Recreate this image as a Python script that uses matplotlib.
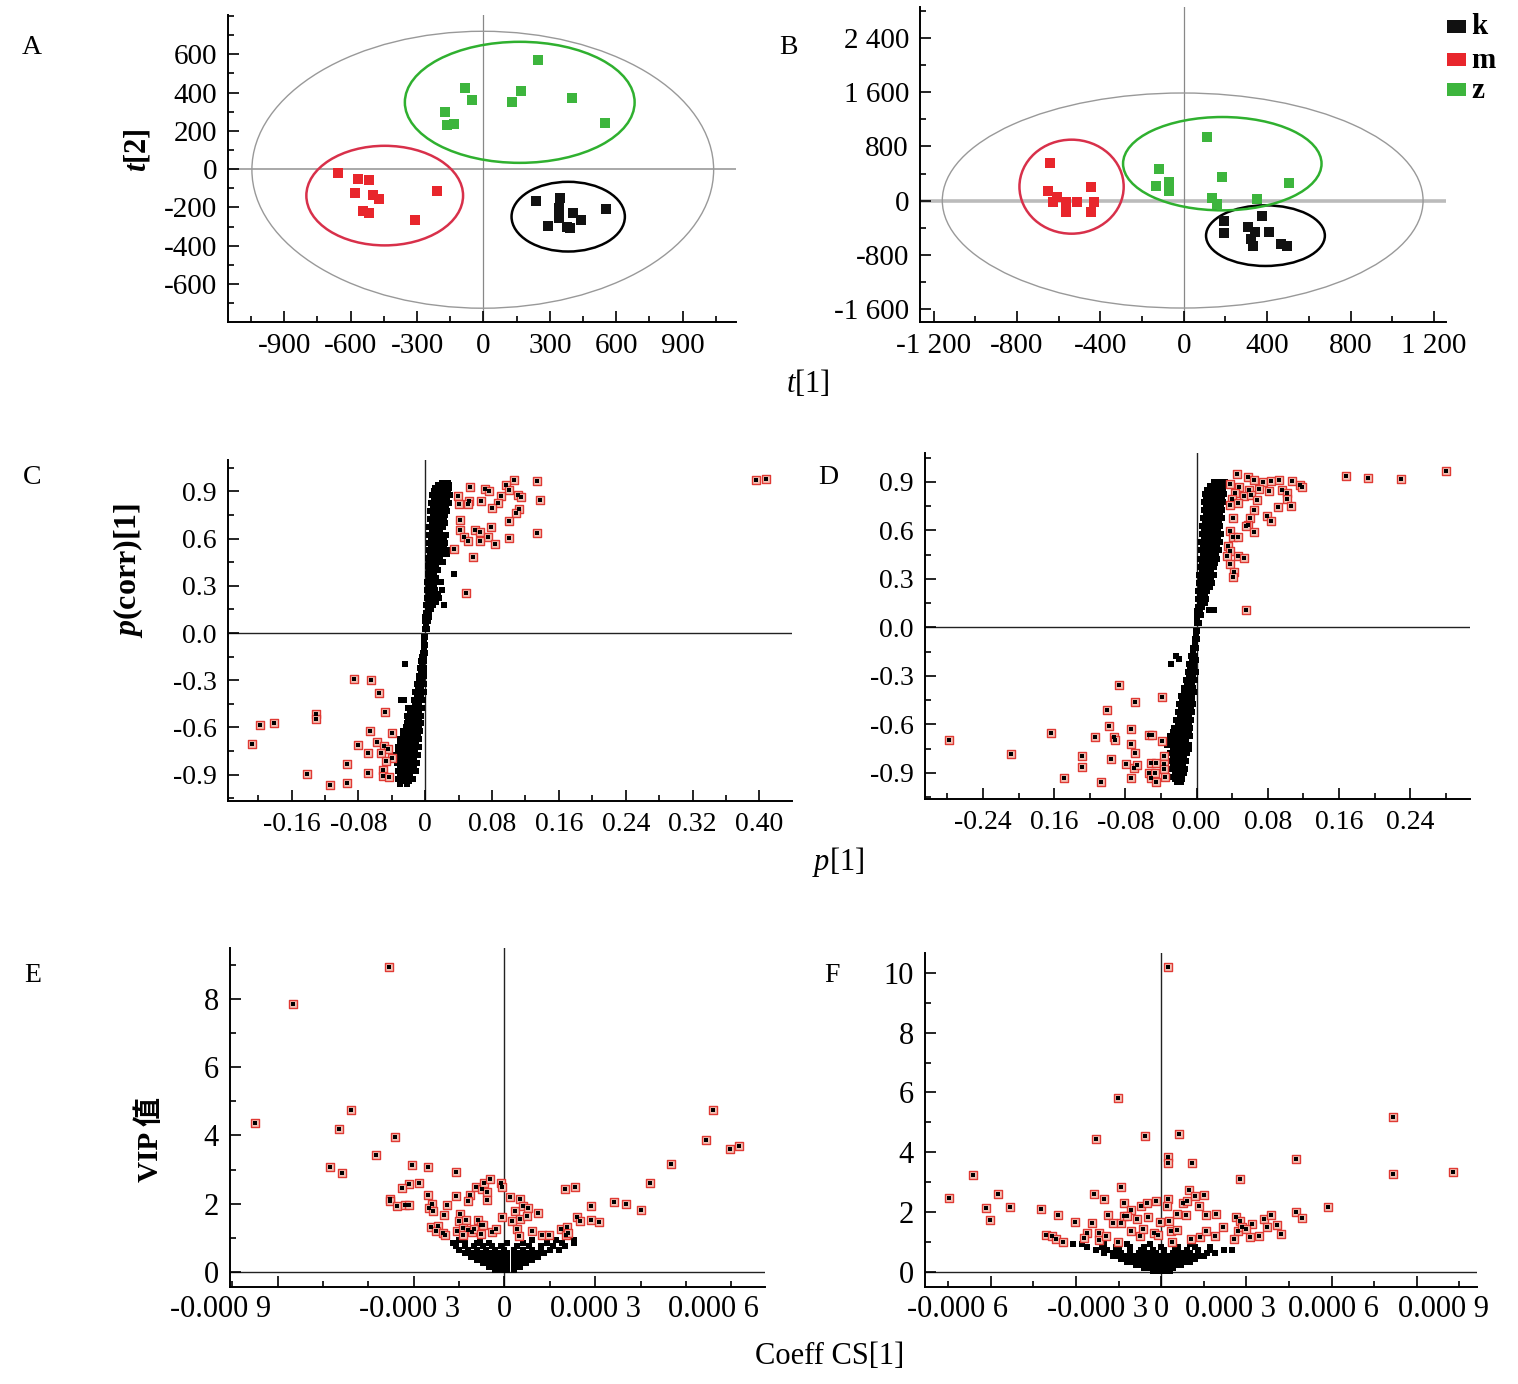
import matplotlib
matplotlib.use('Agg')
import matplotlib.pyplot as plt
from matplotlib.patches import Ellipse, Rectangle
from matplotlib.ticker import MultipleLocator, NullFormatter

plt.rcParams['font.family'] = ['Liberation Serif', 'Noto Sans CJK SC']
plt.rcParams['mathtext.fontset'] = 'custom'
plt.rcParams['mathtext.it'] = 'Liberation Serif:italic'
plt.rcParams['mathtext.rm'] = 'Liberation Serif'
plt.rcParams['mathtext.bf'] = 'Liberation Serif:bold'
plt.rcParams['mathtext.bfit'] = 'Liberation Serif:italic:bold'
plt.rcParams['axes.unicode_minus'] = False

# ---------------- data ----------------
groups = ['k', 'm', 'z']
group_colors = ['#111111', '#e8262c', '#3db53d']

# Panel A scores
a_k_x = [239, 346, 342, 403, 342, 440, 293, 379, 390, 552]
a_k_y = [-167, -148, -205, -231, -257, -268, -299, -301, -306, -209]
a_m_x = [-655, -565, -519, -578, -497, -471, -212, -543, -519, -311]
a_m_y = [-19, -49, -59, -127, -136, -158, -115, -219, -228, -268]
a_z_x = [247, -85, 171, -53, 131, 401, -173, -164, -131, 550]
a_z_y = [572, 424, 407, 363, 353, 374, 297, 233, 237, 242]
# ellipses: (center x, center y, half width, half height)
a_ell_all = (-3, -3, 1043, 723)
a_ell_k = (383, -248, 256, 182)
a_ell_m = (-446, -138, 354, 260)
a_ell_z = (164, 349, 519, 316)
a_xticks = [-900, -600, -300, 0, 300, 600, 900]
a_xlabels = ['-900', '-600', '-300', '0', '300', '600', '900']
a_yticks = [600, 400, 200, 0, -200, -400, -600]
a_ylabels = ['600', '400', '200', '0', '-200', '-400', '-600']

# Panel B scores
b_k_x = [193, 377, 193, 307, 342, 409, 323, 330, 467, 495]
b_k_y = [-300, -231, -472, -388, -462, -462, -565, -668, -634, -668]
b_m_x = [-642, -649, -609, -628, -567, -512, -563, -444, -430, -444]
b_m_y = [555, 143, 54, -20, -20, -20, -172, 201, -20, -172]
b_z_x = [112, -121, -135, -72, -72, 184, 137, 160, 351, 505]
b_z_y = [939, 472, 211, 270, 143, 349, 44, -44, 20, 265]
b_ell_all = (-5, 2, 1153, 1585)
b_ell_k = (392, -516, 285, 447)
b_ell_m = (-538, 206, 250, 693)
b_ell_z = (185, 545, 476, 688)
b_xticks = [-1200, -800, -400, 0, 400, 800, 1200]
b_xlabels = ['-1 200', '-800', '-400', '0', '400', '800', '1 200']
b_yticks = [2400, 1600, 800, 0, -800, -1600]
b_ylabels = ['2 400', '1 600', '800', '0', '-800', '-1 600']

# Panel C S-plot: black variables, rows of (p(corr), [p values])
c_black_rows = [
    (0.025, [0.000, 0.002]), (0.05, [0.001]), (0.075, [0.000, 0.003]), (0.10, [0.000, 0.004]),
    (0.125, [0.001, 0.005]), (0.15, [0.003, 0.007]),
    (0.175, [0.001, 0.005, 0.009, 0.022]), (0.20, [0.004, 0.009, 0.013]),
    (0.225, [0.002, 0.006, 0.011, 0.016]), (0.25, [0.004, 0.009, 0.015]),
    (0.275, [0.002, 0.007, 0.012, 0.020]), (0.30, [0.005, 0.010]),
    (0.325, [0.002, 0.007, 0.012, 0.019]), (0.35, [0.005, 0.009, 0.013]),
    (0.375, [0.003, 0.007, 0.011, 0.035]), (0.40, [0.005, 0.010, 0.015]),
    (0.425, [0.003, 0.008, 0.013]), (0.45, [0.005, 0.011, 0.016, 0.021]),
    (0.475, [0.003, 0.008, 0.013, 0.018]), (0.50, [0.006, 0.011, 0.016, 0.021, 0.026]),
    (0.525, [0.004, 0.009, 0.014, 0.019, 0.024, 0.028]), (0.55, [0.007, 0.012, 0.017, 0.022]),
    (0.575, [0.004, 0.009, 0.014, 0.019, 0.024]), (0.60, [0.007, 0.012, 0.017, 0.023]),
    (0.625, [0.005, 0.010, 0.015, 0.020, 0.025]), (0.65, [0.008, 0.013, 0.018]),
    (0.675, [0.005, 0.010, 0.015, 0.021]), (0.70, [0.008, 0.013, 0.019, 0.024]),
    (0.725, [0.006, 0.011, 0.016, 0.022]), (0.75, [0.009, 0.014, 0.019, 0.024]),
    (0.775, [0.006, 0.011, 0.016, 0.021, 0.026]), (0.80, [0.009, 0.014, 0.019, 0.025]),
    (0.825, [0.007, 0.012, 0.017, 0.022, 0.028]), (0.85, [0.010, 0.015, 0.020, 0.026]),
    (0.875, [0.008, 0.013, 0.018, 0.024, 0.030]), (0.90, [0.010, 0.015, 0.021, 0.027]),
    (0.925, [0.012, 0.018, 0.024, 0.029]), (0.94, [0.015, 0.022, 0.028]),
    (0.955, [0.020, 0.027]),
    (-0.025, [-0.001, 0.000]), (-0.05, [-0.001]), (-0.075, [-0.002, 0.000]), (-0.10, [-0.002]),
    (-0.125, [-0.003, 0.000]), (-0.15, [-0.004, -0.002]),
    (-0.175, [-0.005, -0.001]), (-0.20, [-0.024, -0.004]), (-0.225, [-0.006, -0.002]),
    (-0.25, [-0.005, -0.002]), (-0.275, [-0.008, -0.004, -0.001]), (-0.30, [-0.007, -0.004]),
    (-0.325, [-0.010, -0.006, -0.002]), (-0.35, [-0.009, -0.005]),
    (-0.375, [-0.012, -0.007, -0.002]), (-0.40, [-0.010, -0.005]),
    (-0.425, [-0.029, -0.025, -0.013, -0.008, -0.003]), (-0.45, [-0.012, -0.007]),
    (-0.475, [-0.020, -0.015, -0.010, -0.004]), (-0.50, [-0.018, -0.012, -0.007]),
    (-0.525, [-0.022, -0.017, -0.011, -0.005]), (-0.55, [-0.020, -0.014, -0.008]),
    (-0.575, [-0.022, -0.017, -0.011, -0.005]), (-0.60, [-0.023, -0.018, -0.013, -0.008]),
    (-0.625, [-0.026, -0.021, -0.016, -0.011, -0.006]), (-0.65, [-0.027, -0.021, -0.015, -0.009]),
    (-0.675, [-0.030, -0.024, -0.018, -0.012, -0.007]), (-0.70, [-0.030, -0.024, -0.018, -0.011]),
    (-0.725, [-0.033, -0.027, -0.021, -0.015, -0.008]), (-0.75, [-0.032, -0.026, -0.019, -0.012]),
    (-0.775, [-0.035, -0.029, -0.023, -0.016, -0.009]), (-0.80, [-0.031, -0.025, -0.019, -0.013]),
    (-0.825, [-0.034, -0.028, -0.022, -0.016, -0.010]), (-0.85, [-0.030, -0.024, -0.019, -0.013]),
    (-0.875, [-0.033, -0.027, -0.021, -0.016, -0.011]), (-0.90, [-0.030, -0.024, -0.018]),
    (-0.925, [-0.032, -0.026, -0.020, -0.014]), (-0.94, [-0.028, -0.019]),
    (-0.960, [-0.030, -0.022])]
c_red = [(0.106, 0.975), (0.134, 0.964), (0.396, 0.975), (0.408, 0.979), (0.054, 0.928),
         (0.071, 0.915), (0.076, 0.900), (0.097, 0.941), (0.100, 0.907), (0.091, 0.873),
         (0.111, 0.879), (0.115, 0.864), (0.039, 0.868), (0.138, 0.843), (0.053, 0.837),
         (0.051, 0.822), (0.041, 0.822), (0.067, 0.837), (0.087, 0.826), (0.080, 0.794),
         (0.112, 0.788), (0.109, 0.766), (0.042, 0.716), (0.100, 0.709), (0.042, 0.656),
         (0.060, 0.656), (0.065, 0.645), (0.079, 0.673), (0.075, 0.609), (0.046, 0.609),
         (0.051, 0.582), (0.066, 0.588), (0.083, 0.565), (0.100, 0.603), (0.134, 0.639),
         (0.035, 0.533), (0.057, 0.482), (0.049, 0.257),
         (-0.085, -0.295), (-0.065, -0.299), (-0.055, -0.380), (-0.048, -0.501), (-0.131, -0.512),
         (-0.131, -0.544), (-0.181, -0.569), (-0.198, -0.586), (-0.066, -0.624), (-0.040, -0.633),
         (-0.207, -0.707), (-0.080, -0.713), (-0.058, -0.696), (-0.049, -0.720), (-0.044, -0.735),
         (-0.053, -0.762), (-0.068, -0.766), (-0.040, -0.794), (-0.047, -0.813), (-0.093, -0.834),
         (-0.051, -0.868), (-0.069, -0.890), (-0.142, -0.894), (-0.051, -0.911), (-0.043, -0.915),
         (-0.093, -0.951), (-0.114, -0.968)]
c_xticks = [-0.16, -0.08, 0, 0.08, 0.16, 0.24, 0.32, 0.40]
c_xlabels = ['-0.16', '-0.08', '0', '0.08', '0.16', '0.24', '0.32', '0.40']
cd_yticks = [0.9, 0.6, 0.3, 0.0, -0.3, -0.6, -0.9]
cd_ylabels = ['0.9', '0.6', '0.3', '0.0', '-0.3', '-0.6', '-0.9']

# Panel D S-plot
d_black_rows = [
    (0.025, [0.000, 0.003]), (0.05, [0.001]), (0.075, [0.001, 0.005]), (0.10, [0.001, 0.004]),
    (0.105, [0.014, 0.020]), (0.125, [0.002, 0.006]), (0.15, [0.004, 0.009]),
    (0.175, [0.002, 0.007, 0.011]), (0.20, [0.004, 0.009]), (0.225, [0.002, 0.007, 0.012]),
    (0.25, [0.005, 0.010, 0.015]), (0.275, [0.003, 0.008, 0.013, 0.017]),
    (0.30, [0.005, 0.010, 0.016]), (0.325, [0.003, 0.008, 0.013, 0.020]),
    (0.35, [0.006, 0.011, 0.016]), (0.375, [0.004, 0.009, 0.014, 0.019]),
    (0.40, [0.006, 0.011, 0.016, 0.021]), (0.425, [0.004, 0.009, 0.014, 0.019, 0.023]),
    (0.45, [0.007, 0.012, 0.017, 0.022]), (0.475, [0.005, 0.010, 0.015, 0.020, 0.025]),
    (0.50, [0.007, 0.012, 0.017, 0.023]), (0.525, [0.005, 0.010, 0.015, 0.020, 0.026]),
    (0.55, [0.008, 0.013, 0.018, 0.024]), (0.575, [0.006, 0.011, 0.016, 0.021, 0.027]),
    (0.60, [0.008, 0.013, 0.018, 0.024]), (0.625, [0.006, 0.011, 0.016, 0.021, 0.026]),
    (0.65, [0.009, 0.014, 0.019, 0.025]), (0.675, [0.007, 0.012, 0.017, 0.022, 0.028]),
    (0.70, [0.010, 0.015, 0.020, 0.026]), (0.725, [0.008, 0.013, 0.018, 0.023, 0.029]),
    (0.75, [0.010, 0.016, 0.021, 0.027]), (0.775, [0.008, 0.013, 0.018, 0.024, 0.030]),
    (0.80, [0.011, 0.016, 0.022, 0.028]), (0.825, [0.009, 0.014, 0.019, 0.025, 0.031]),
    (0.85, [0.012, 0.018, 0.024, 0.030]), (0.875, [0.015, 0.021, 0.027, 0.033]),
    (0.90, [0.020, 0.026, 0.032]),
    (-0.025, [-0.001, 0.000]), (-0.05, [-0.001]), (-0.075, [-0.002, 0.000]), (-0.10, [-0.002]),
    (-0.125, [-0.004, -0.001]), (-0.15, [-0.004]), (-0.175, [-0.023, -0.006, -0.002]),
    (-0.195, [-0.020]), (-0.20, [-0.005, -0.001]), (-0.225, [-0.029, -0.008, -0.003]),
    (-0.25, [-0.007, -0.003]), (-0.275, [-0.010, -0.005, -0.001]), (-0.30, [-0.009, -0.004]),
    (-0.325, [-0.012, -0.007, -0.002]), (-0.35, [-0.011, -0.005]),
    (-0.375, [-0.014, -0.009, -0.004]), (-0.40, [-0.014, -0.008, -0.003]),
    (-0.425, [-0.017, -0.011, -0.005]), (-0.45, [-0.016, -0.010, -0.005]),
    (-0.475, [-0.020, -0.014, -0.008, -0.004]), (-0.50, [-0.017, -0.011, -0.006]),
    (-0.525, [-0.021, -0.015, -0.009, -0.005]), (-0.55, [-0.019, -0.013, -0.008]),
    (-0.575, [-0.023, -0.017, -0.011, -0.006]), (-0.60, [-0.021, -0.015, -0.009]),
    (-0.625, [-0.025, -0.019, -0.013, -0.007]), (-0.65, [-0.027, -0.021, -0.015, -0.009]),
    (-0.675, [-0.030, -0.024, -0.018, -0.012, -0.007]), (-0.695, [-0.035]),
    (-0.70, [-0.030, -0.024, -0.018, -0.012]), (-0.725, [-0.033, -0.027, -0.021, -0.015, -0.009]),
    (-0.75, [-0.027, -0.021, -0.015, -0.009]), (-0.775, [-0.030, -0.024, -0.018, -0.011]),
    (-0.80, [-0.026, -0.020, -0.014]), (-0.825, [-0.029, -0.023, -0.017, -0.012]),
    (-0.85, [-0.026, -0.020, -0.015]), (-0.875, [-0.029, -0.023, -0.018, -0.013]),
    (-0.90, [-0.024, -0.019, -0.014]), (-0.925, [-0.027, -0.021, -0.016]),
    (-0.94, [-0.024, -0.016]), (-0.955, [-0.022, -0.018])]
d_red = [(0.280, 0.969), (0.168, 0.934), (0.192, 0.926), (0.230, 0.920),
         (0.045, 0.946), (0.058, 0.930), (0.064, 0.913), (0.075, 0.899), (0.083, 0.903),
         (0.093, 0.909), (0.107, 0.903), (0.116, 0.878), (0.118, 0.868), (0.038, 0.885),
         (0.048, 0.868), (0.059, 0.852), (0.070, 0.856), (0.081, 0.841), (0.096, 0.847),
         (0.101, 0.831), (0.043, 0.831), (0.053, 0.810), (0.061, 0.821), (0.040, 0.794),
         (0.068, 0.786), (0.102, 0.794), (0.091, 0.744), (0.106, 0.748), (0.038, 0.759),
         (0.047, 0.769), (0.064, 0.724), (0.079, 0.687), (0.083, 0.656), (0.041, 0.676),
         (0.060, 0.676), (0.058, 0.635), (0.055, 0.625), (0.064, 0.592), (0.038, 0.594),
         (0.041, 0.559), (0.047, 0.559), (0.035, 0.501), (0.037, 0.470), (0.034, 0.439),
         (0.046, 0.443), (0.053, 0.427), (0.038, 0.394), (0.042, 0.342), (0.041, 0.309),
         (0.055, 0.107),
         (-0.278, -0.699), (-0.208, -0.786), (-0.163, -0.656), (-0.149, -0.934), (-0.129, -0.796),
         (-0.129, -0.862), (-0.114, -0.678), (-0.107, -0.957), (-0.101, -0.509), (-0.098, -0.608),
         (-0.096, -0.816), (-0.093, -0.678), (-0.092, -0.699), (-0.087, -0.357), (-0.079, -0.847),
         (-0.074, -0.629), (-0.074, -0.724), (-0.074, -0.934), (-0.069, -0.462), (-0.069, -0.775),
         (-0.070, -0.872), (-0.067, -0.852), (-0.054, -0.664), (-0.050, -0.668), (-0.054, -0.899),
         (-0.051, -0.934), (-0.051, -0.837), (-0.046, -0.837), (-0.047, -0.899), (-0.046, -0.959),
         (-0.039, -0.431), (-0.039, -0.701), (-0.037, -0.798), (-0.037, -0.847), (-0.037, -0.876),
         (-0.036, -0.926)]
d_xticks = [-0.24, -0.16, -0.08, 0.0, 0.08, 0.16, 0.24]
d_xlabels = ['-0.24', '0.16', '-0.08', '0.00', '0.08', '0.16', '0.24']

# Panel E VIP vs coefficient: black rows of (VIP, [coeff])
e_black_rows = [
    (0.05, [-3e-5, -1e-5, 1e-5, 3e-5]),
    (0.15, [-5e-5, -3e-5, -1e-5, 1e-5, 3e-5, 5e-5]),
    (0.25, [-7e-5, -5e-5, -3e-5, -1e-5, 1e-5, 3e-5, 5e-5, 7e-5]),
    (0.35, [-9e-5, -7e-5, -5e-5, -3e-5, -1e-5, 1e-5, 3e-5, 5e-5, 7e-5, 9e-5]),
    (0.45, [-11e-5, -9e-5, -7e-5, -5e-5, -3e-5, -1e-5, 1e-5, 3e-5, 5e-5, 7e-5, 9e-5, 11e-5]),
    (0.55, [-13e-5, -11e-5, -9e-5, -7e-5, -5e-5, -3e-5, -1e-5, 1e-5, 3e-5, 5e-5, 7e-5, 9e-5,
            11e-5, 13e-5]),
    (0.65, [-15e-5, -12e-5, -9e-5, -6e-5, -3e-5, 0.0, 3e-5, 6e-5, 9e-5, 12e-5, 15e-5, 18e-5]),
    (0.75, [-16e-5, -13e-5, -10e-5, -7e-5, -4e-5, -1e-5, 4e-5, 8e-5, 12e-5, 16e-5, 20e-5]),
    (0.85, [-17e-5, -13e-5, -9e-5, -5e-5, 1e-5, 6e-5, 14e-5, 19e-5, 23e-5]),
    (0.95, [-15e-5, -8e-5, 9e-5, 17e-5, 23e-5])]
e_red = [(-0.000380, 8.94), (-0.000700, 7.85), (-0.000824, 4.36), (-0.000507, 4.75), (-0.000547, 4.20),
         (-0.000363, 3.96), (-0.000426, 3.44), (-0.000577, 3.07), (-0.000537, 2.89), (-0.000304, 3.13),
         (-0.000254, 3.07), (-0.000160, 2.93), (-0.000283, 2.61), (-0.000314, 2.58), (-0.000337, 2.45),
         (-0.000379, 2.14), (-0.000379, 2.07), (-0.000356, 1.92), (-0.000330, 1.97), (-0.000314, 1.97),
         (-0.000254, 2.25), (-0.000240, 1.99), (-0.000250, 1.87), (-0.000236, 1.78), (-0.000189, 1.97),
         (-0.000200, 1.67), (-0.000161, 2.23), (-0.000147, 1.70), (-0.000150, 1.48), (-0.000126, 1.51),
         (-0.000114, 2.25), (-0.000119, 2.09), (-0.000093, 2.48), (-0.000073, 2.43), (-0.000067, 2.61),
         (-0.000047, 2.72), (-0.000057, 2.34), (-0.000057, 2.12), (-0.000089, 1.53), (-0.000079, 1.39),
         (-0.000070, 1.39), (-0.000011, 2.61), (-0.000009, 2.49), (-0.000007, 1.60), (0.000017, 2.20),
         (0.000051, 2.13), (0.000036, 1.80), (0.000060, 1.92), (0.000079, 1.88), (0.000051, 1.56),
         (0.000074, 1.65), (0.000024, 1.50), (0.000110, 1.72), (0.000041, 1.26), (0.000047, 1.04),
         (0.000090, 1.21), (0.000200, 2.43), (0.000233, 2.48), (0.000241, 1.62), (0.000249, 1.48),
         (0.000286, 1.92), (0.000286, 1.52), (0.000311, 1.46), (0.000363, 2.04), (0.000400, 1.98),
         (0.000450, 1.81), (0.000481, 2.60), (0.000550, 3.15), (0.000667, 3.86), (0.000689, 4.75),
         (0.000746, 3.60), (0.000774, 3.69),
         (-0.000243, 1.32), (-0.000219, 1.36), (-0.000226, 1.19), (-0.000204, 1.14), (-0.000196, 1.09),
         (-0.000157, 1.21), (-0.000136, 1.28), (-0.000121, 1.24), (-0.000136, 1.09), (-0.000107, 1.17),
         (-0.000100, 1.26), (-0.000076, 1.12), (-0.000040, 1.16), (-0.000029, 1.26), (0.000124, 1.09),
         (0.000146, 1.09), (0.000186, 1.26), (0.000207, 1.32), (0.000203, 1.09), (0.000210, 1.14)]
e_major = [-0.00075, -0.0003, 0.0, 0.0003]
e_label_pos = [-0.000937, -0.000315, 0.0, 0.0003, 0.000692]
e_labels = ['-0.000 9', '-0.000 3', '0', '0.000 3', '0.000 6']
e_yticks = [0, 2, 4, 6, 8]

# Panel F VIP vs coefficient
f_black_rows = [
    (0.05, [-3e-5, -1e-5, 1e-5, 3e-5]),
    (0.15, [-6e-5, -4e-5, -2e-5, 0.0, 2e-5, 4e-5]),
    (0.25, [-9e-5, -7e-5, -5e-5, -3e-5, -1e-5, 1e-5, 3e-5, 5e-5, 7e-5]),
    (0.35, [-12e-5, -10e-5, -8e-5, -6e-5, -4e-5, -2e-5, 0.0, 2e-5, 4e-5, 6e-5, 8e-5, 10e-5]),
    (0.45, [-14e-5, -12e-5, -10e-5, -8e-5, -6e-5, -4e-5, -2e-5, 0.0, 2e-5, 4e-5, 6e-5, 8e-5,
            10e-5, 12e-5]),
    (0.55, [-17e-5, -15e-5, -13e-5, -11e-5, -9e-5, -7e-5, -5e-5, -3e-5, -1e-5, 1e-5, 3e-5, 5e-5,
            7e-5, 9e-5, 11e-5, 13e-5, 15e-5]),
    (0.65, [-20e-5, -17e-5, -14e-5, -11e-5, -8e-5, -5e-5, -2e-5, 1e-5, 4e-5, 7e-5, 10e-5, 13e-5,
            16e-5, 19e-5]),
    (0.75, [-23e-5, -19e-5, -15e-5, -11e-5, -7e-5, -3e-5, 1e-5, 5e-5, 9e-5, 13e-5, 17e-5, 22e-5,
            25e-5]),
    (0.85, [-26e-5, -21e-5, -16e-5, -11e-5, -6e-5, 0.0, 6e-5, 12e-5, 17e-5]),
    (0.95, [-31e-5, -28e-5, -20e-5, -12e-5, -4e-5, 4e-5, 10e-5])]
f_red = [(0.0000236, 10.18), (-0.000151, 5.83), (0.000817, 5.18), (-0.000229, 4.44), (-0.0000581, 4.55),
         (0.0000628, 4.62), (0.0000251, 3.86), (0.0000251, 3.64), (0.000108, 3.64), (0.000476, 3.79),
         (0.000817, 3.27), (0.001026, 3.34), (-0.000664, 3.25), (-0.000749, 2.49), (-0.000575, 2.61),
         (-0.000616, 2.14), (-0.000531, 2.18), (-0.000602, 1.75), (-0.000422, 2.10), (-0.000363, 1.90),
         (-0.000303, 1.68), (0.000276, 3.11), (0.000589, 2.18), (0.000476, 2.02), (0.000496, 1.79),
         (-0.000236, 2.61), (-0.000203, 2.45), (-0.000143, 2.84), (-0.000132, 2.30), (-0.000105, 2.06),
         (-0.000187, 1.90), (-0.000171, 1.64), (-0.000140, 1.64), (-0.000132, 1.86), (-0.000121, 1.86),
         (-0.0000864, 1.77), (-0.0000455, 1.84), (-0.0000707, 2.22), (-0.0000503, 2.32), (-0.0000188, 2.36),
         (0.0000251, 2.44), (0.0000188, 2.19), (0.0000283, 1.69), (-0.0000031, 1.66), (0.0000754, 2.30),
         (0.0000911, 2.38), (0.0000989, 2.75), (0.000119, 2.55), (0.000149, 2.58), (0.0000565, 1.94),
         (0.0000880, 1.89), (0.000134, 2.19), (0.000159, 1.89), (0.000193, 1.95), (0.000217, 1.49),
         (0.000265, 1.84), (0.000279, 1.71), (0.000319, 1.62), (0.000363, 1.77), (0.000388, 1.90),
         (0.000374, 1.52), (0.000407, 1.58), (0.000421, 1.28), (0.000346, 1.22), (0.000311, 1.16),
         (0.000269, 1.36), (0.000286, 1.49), (0.000300, 1.43), (-0.000243, 1.64), (-0.000261, 1.32),
         (-0.000273, 1.13), (-0.000218, 1.32), (-0.000218, 1.06), (-0.000195, 1.21), (-0.000152, 1.02),
         (-0.000108, 1.36), (-0.0000738, 1.21), (-0.0000628, 1.43), (-0.0000267, 1.30), (-0.000011, 1.25),
         (0.0000361, 1.36), (0.0000565, 1.41), (0.0000393, 1.02), (0.000104, 1.11), (0.000135, 1.16),
         (0.000157, 1.36), (0.000190, 1.22), (0.000256, 1.11), (-0.000407, 1.25), (-0.000383, 1.22),
         (-0.000369, 1.11), (-0.000347, 1.02)]
f_major = [-0.0006, -0.0003, 0.0, 0.0003, 0.0006, 0.0009]
f_label_pos = [-0.000716, -0.000223, 0.0, 0.000243, 0.000608, 0.000993]
f_labels = ['-0.000 6', '-0.000 3', '0', '0.000 3', '0.000 6', '0.000 9']
f_yticks = [0, 2, 4, 6, 8, 10]

# ---------------- figure ----------------
W, H = 1518, 1384
fig = plt.figure(figsize=(W / 100, H / 100), dpi=100)


def add_axes(l, r, t, b):
    return fig.add_axes([l / W, 1 - b / H, (r - l) / W, (b - t) / H])


def style(ax, fs):
    for s in ['top', 'right']:
        ax.spines[s].set_visible(False)
    for s in ['left', 'bottom']:
        ax.spines[s].set_linewidth(1.4)
    ax.tick_params(which='both', direction='in', top=False, right=False, width=1.2)
    ax.tick_params(which='major', length=8, labelsize=fs, pad=8)
    ax.tick_params(which='minor', length=4)


def ftext(x, y, s, **kw):
    fig.text(x / W, 1 - y / H, s, ha='center', va='center', **kw)


def draw_scores(ax, data, ells, hline_kw):
    ax.axhline(0, **hline_kw)
    ax.axvline(0, color='#888888', lw=0.9, zorder=1)
    cx, cy, hw, hh = ells[0]
    ax.add_patch(Ellipse((cx, cy), 2 * hw, 2 * hh, fill=False, ec='#999999', lw=1.0, zorder=2))
    ecols = ['#000000', '#d8304a', '#2fb02f']
    for (xs, ys), e, c, ec in zip(data, ells[1:], group_colors, ecols):
        ax.add_patch(Ellipse((e[0], e[1]), 2 * e[2], 2 * e[3], fill=False, ec=ec,
                             lw=1.8, zorder=2))
        ax.scatter(xs, ys, s=50, marker='s', color=c, linewidths=0, zorder=3)


def rows_to_xy(rows):
    xs, ys = [], []
    for y, row in rows:
        for x in row:
            xs.append(x)
            ys.append(y)
    return xs, ys


def draw_splot(ax, black_rows, red, bs):
    bx, by = rows_to_xy(black_rows)
    rx, ry = zip(*red)
    ax.axhline(0, color='#222222', lw=1.0, zorder=1)
    ax.axvline(0, color='#222222', lw=1.0, zorder=1)
    ax.scatter(bx, by, s=bs, marker='s', color='black', linewidths=0, zorder=2)
    ax.scatter(rx, ry, s=34, marker='s', facecolor='#f2c2b6', edgecolor='#e03a34',
               linewidths=1.0, zorder=3)
    ax.scatter(rx, ry, s=6, marker='s', color='black', linewidths=0, zorder=4)


# Panel A
axA = add_axes(228, 736, 15, 322)
draw_scores(axA, [(a_k_x, a_k_y), (a_m_x, a_m_y), (a_z_x, a_z_y)],
            [a_ell_all, a_ell_k, a_ell_m, a_ell_z], dict(color='#999999', lw=1.2, zorder=1))
axA.set_xlim(-1154, 1141)
axA.set_ylim(-798, 805)
axA.set_xticks(a_xticks, a_xlabels)
axA.set_yticks(a_yticks, a_ylabels)
axA.xaxis.set_minor_locator(MultipleLocator(150))
axA.yaxis.set_minor_locator(MultipleLocator(100))
style(axA, 21)

# Panel B
axB = add_axes(920, 1446, 7, 322)
draw_scores(axB, [(b_k_x, b_k_y), (b_m_x, b_m_y), (b_z_x, b_z_y)],
            [b_ell_all, b_ell_k, b_ell_m, b_ell_z], dict(color='#bbbbbb', lw=2.6, zorder=1))
axB.set_xlim(-1265, 1258)
axB.set_ylim(-1789, 2855)
axB.set_xticks(b_xticks, b_xlabels)
axB.set_yticks(b_yticks, b_ylabels)
axB.xaxis.set_minor_locator(MultipleLocator(200))
axB.yaxis.set_minor_locator(MultipleLocator(400))
style(axB, 21)

# Panel C
axC = add_axes(228, 792, 460, 801)
draw_splot(axC, c_black_rows, c_red, 18)
axC.set_xlim(-0.236, 0.439)
axC.set_ylim(-1.068, 1.10)
axC.set_xticks(c_xticks, c_xlabels)
axC.set_yticks(cd_yticks, cd_ylabels)
axC.xaxis.set_minor_locator(MultipleLocator(0.04))
axC.yaxis.set_minor_locator(MultipleLocator(0.15))
style(axC, 20)

# Panel D
axD = add_axes(925, 1470, 453, 799)
draw_splot(axD, d_black_rows, d_red, 18)
axD.set_xlim(-0.305, 0.307)
axD.set_ylim(-1.062, 1.078)
axD.set_xticks(d_xticks, d_xlabels)
axD.set_yticks(cd_yticks, cd_ylabels)
axD.xaxis.set_minor_locator(MultipleLocator(0.04))
axD.yaxis.set_minor_locator(MultipleLocator(0.15))
style(axD, 20)


def vip_axis(ax, major, label_pos, labels, yticks, fs):
    ax.set_xticks(major)
    ax.xaxis.set_major_formatter(NullFormatter())
    ax.xaxis.set_minor_locator(MultipleLocator(0.00015))
    ax.set_yticks(yticks, [str(v) for v in yticks])
    ax.yaxis.set_minor_locator(MultipleLocator(1))
    style(ax, fs)
    for p, s in zip(label_pos, labels):
        ax.annotate(s, xy=(p, 0), xycoords=('data', 'axes fraction'), xytext=(0, -6),
                    textcoords='offset points', ha='center', va='top', fontsize=fs)


# Panel E
axE = add_axes(230, 765, 948, 1287)
draw_splot(axE, e_black_rows, e_red, 22)
axE.set_xlim(-0.000907, 0.000861)
axE.set_ylim(-0.44, 9.49)
vip_axis(axE, e_major, e_label_pos, e_labels, e_yticks, 22)

# Panel F
axF = add_axes(925, 1477, 953, 1287)
draw_splot(axF, f_black_rows, f_red, 22)
axF.set_xlim(-0.000832, 0.001112)
axF.set_ylim(-0.5, 10.66)
vip_axis(axF, f_major, f_label_pos, f_labels, f_yticks, 22)

# panel letters
for (x, y), s in zip([(32, 48), (788, 48), (32, 477), (828, 477), (33, 975), (832, 975)],
                     ['A', 'B', 'C', 'D', 'E', 'F']):
    ftext(x, y, s, fontsize=20)

# axis titles
ftext(138, 150, r'$\mathbfit{t}$[2]', fontsize=22, fontweight='bold', rotation=90)
ftext(808, 383, r'$\mathit{t}$[1]', fontsize=22)
ftext(128, 570, r'$\mathbfit{p}$(corr)[1]', fontsize=23, fontweight='bold', rotation=90)
ftext(838, 862, r'$\mathit{p}$[1]', fontsize=22)
ftext(150, 1140, 'VIP 值', fontsize=21, fontweight='bold', rotation=90,
      family=['Liberation Serif', 'Noto Sans CJK SC'])
ftext(830, 1356, 'Coeff CS[1]', fontsize=22)

# legend for B
leg_y = [27, 60, 90]
for g, c, y in zip(groups, group_colors, leg_y):
    fig.add_artist(Rectangle((1447 / W, 1 - (y + 6) / H), 19 / W, 13 / H,
                             transform=fig.transFigure, color=c, lw=0))
    fig.text(1471 / W, 1 - y / H, g, ha='left', va='center', fontsize=21, fontweight='bold')

fig.savefig('out.png', dpi=100)
